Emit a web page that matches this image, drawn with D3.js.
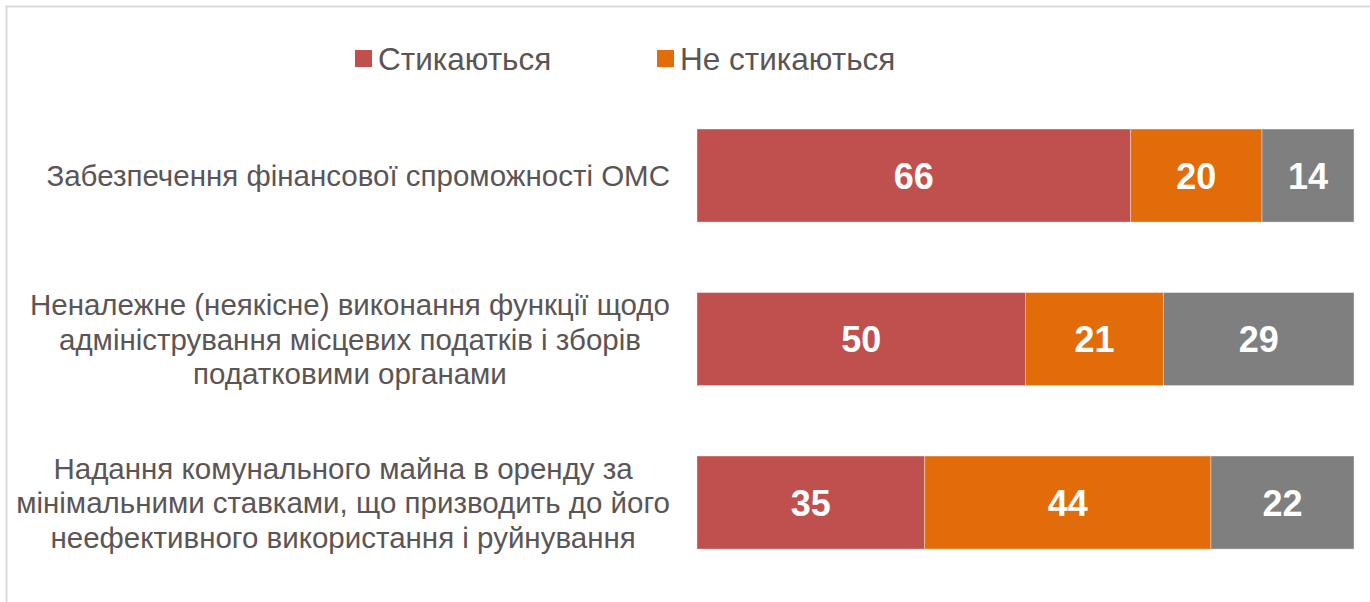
<!DOCTYPE html>
<html><head><meta charset="utf-8">
<script src="https://cdn.jsdelivr.net/npm/d3@7"></script>
<style>html,body{margin:0;padding:0;background:#fff;}svg{display:block;font-family:"Liberation Sans",Arial,sans-serif;}</style>
</head><body>
<svg id="c" width="1370" height="602"></svg>
<script>
const categories = [
  "Забезпечення фінансової спроможності ОМС",
  "Неналежне (неякісне) виконання функції щодо адміністрування місцевих податків і зборів податковими органами",
  "Надання комунального майна в оренду за мінімальними ставками, що призводить до його неефективного використання і руйнування"
];
const categoryLines = [
  ["Забезпечення фінансової спроможності ОМС"],
  ["Неналежне (неякісне) виконання функції щодо", "адміністрування місцевих податків і зборів", "податковими органами"],
  ["Надання комунального майна в оренду за", "мінімальними ставками, що призводить до його", "неефективного використання і руйнування"]
];
const seriesNames = ["Стикаються", "Не стикаються", "Важко відповісти"];
const legendNames = ["Стикаються", "Не стикаються"];
const seriesColors = ["#C0504D", "#E36C0A", "#7F7F7F"];
const stykayutsya = [66, 50, 35];
const neStykayutsya = [20, 21, 44];
const vazhko = [14, 29, 22];

const svg = d3.select("#c");
const W = 1370, H = 602;
svg.append("rect").attr("x", 6.5).attr("y", 6.5).attr("width", W + 10).attr("height", H + 10)
  .attr("fill", "#fff").attr("stroke", "#d9d9d9").attr("stroke-width", 2);

const seriesVals = [stykayutsya, neStykayutsya, vazhko];
const rows = categories.map((c, i) => {
  const vals = seriesVals.map(s => s[i]);
  const total = d3.sum(vals);
  let acc = 0;
  return vals.map((v, k) => { const r = {cat: c, i, k, v, x0: acc / total, x1: (acc + v) / total}; acc += v; return r; });
});

const x = d3.scaleLinear().domain([0, 1]).range([697, 1354]);
const y = d3.scaleBand().domain(categories).range([93.8, 584.3]).paddingInner(0.431).paddingOuter(0.2155);

const g = svg.append("g");
rows.forEach(r => {
  const seg = g.selectAll(null).data(r).enter().append("g");
  seg.append("rect")
    .attr("x", d => x(d.x0)).attr("y", d => y(d.cat))
    .attr("width", d => x(d.x1) - x(d.x0)).attr("height", y.bandwidth())
    .attr("fill", d => seriesColors[d.k])
    .attr("stroke", "rgba(255,255,255,0.35)").attr("stroke-width", 1);
  seg.append("text")
    .attr("x", d => (x(d.x0) + x(d.x1)) / 2)
    .attr("y", d => y(d.cat) + y.bandwidth() / 2)
    .attr("dy", "0.36em").attr("text-anchor", "middle")
    .attr("fill", "#fff").attr("font-weight", "bold").attr("font-size", 36)
    .text(d => d.v);
});

// category labels: centred block whose longest line ends at x=670
const labelColor = "#5b5555";
categories.forEach((c, i) => {
  const lines = categoryLines[i];
  const cy = y(c) + y.bandwidth() / 2;
  const lh = 34.5;
  const t = svg.append("text").attr("text-anchor", "middle").attr("fill", labelColor).attr("font-size", 29.5);
  const spans = lines.map((ln, j) =>
    t.append("tspan").attr("y", cy + (j - (lines.length - 1) / 2) * lh).attr("dy", "0.36em").text(ln));
  const maxW = d3.max(spans, s => s.node().getComputedTextLength());
  spans.forEach(s => s.attr("x", 670 - maxW / 2));
});

// legend
const legendX = [355, 657];
legendNames.forEach((n, k) => {
  const lg = svg.append("g").attr("transform", `translate(${legendX[k]},50)`);
  lg.append("rect").attr("width", 17).attr("height", 17).attr("fill", seriesColors[k]);
  lg.append("text").attr("x", 23).attr("y", 9).attr("dy", "0.36em").attr("fill", labelColor).attr("font-size", 31.5).text(n);
});
</script>
</body></html>
